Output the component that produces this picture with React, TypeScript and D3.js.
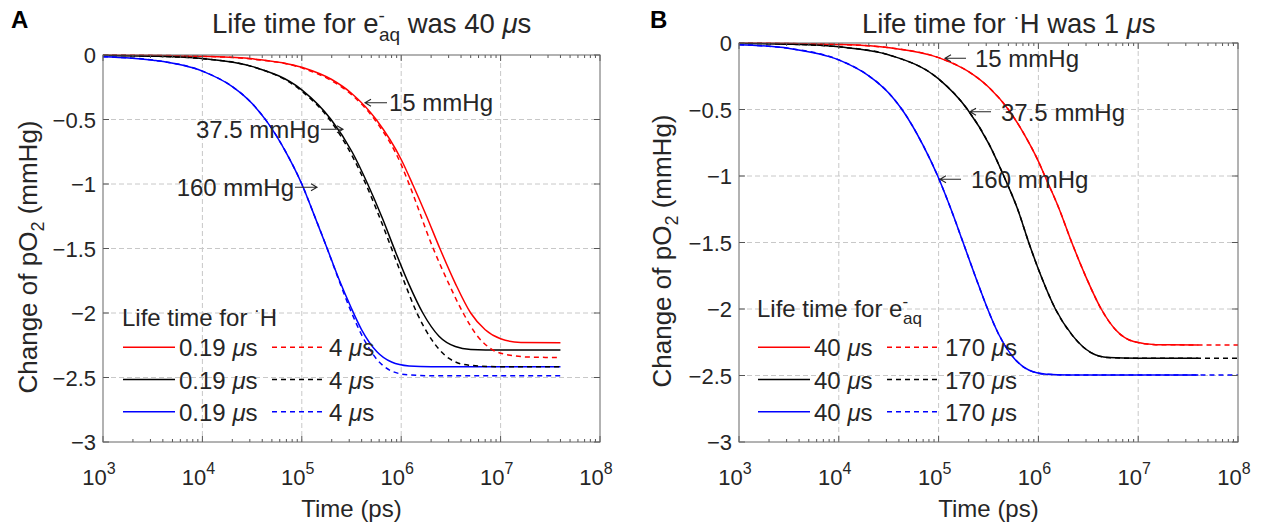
import React from 'react';
import * as d3 from 'd3';

type P = [number, number];

const FONT = '"Liberation Sans", Arial, Helvetica, sans-serif';
const TXT = '#262626';

// ---------- tick labels ----------
const xTicks = [1e3, 1e4, 1e5, 1e6, 1e7, 1e8];
const xTickExp = ['3', '4', '5', '6', '7', '8'];
const yTicks = [0, -0.5, -1, -1.5, -2, -2.5, -3];
const yTickLabels = ['0', '\u22120.5', '\u22121', '\u22121.5', '\u22122', '\u22122.5', '\u22123'];

// ---------- colours of the three pO2 levels (15, 37.5, 160 mmHg) ----------
const seriesColors = ['#ff0000', '#000000', '#0000ff'];

// ---------- Panel A: [time (ps), change of pO2 (mmHg)] ----------
const A_red_solid: P[] = [[1e3, -0.001], [3.2e3, -0.003], [1e4, -0.01], [3.2e4, -0.03], [1e5, -0.095], [2e5, -0.19], [3.2e5, -0.3], [5.6e5, -0.5], [1e6, -0.81], [1.3e6, -1.0], [1.8e6, -1.25], [2.45e6, -1.5], [3.5e6, -1.77], [5e6, -2.0], [7e6, -2.13], [1e7, -2.2], [1.6e7, -2.228], [4e7, -2.23]];
const A_red_dash: P[] = [[1e3, -0.001], [3.2e3, -0.003], [1e4, -0.01], [3.2e4, -0.032], [1e5, -0.1], [2e5, -0.2], [3.2e5, -0.31], [5.4e5, -0.5], [1e6, -0.85], [1.2e6, -1.0], [2.1e6, -1.5], [3e6, -1.77], [4.2e6, -2.0], [6e6, -2.19], [8.3e6, -2.285], [1.2e7, -2.325], [2e7, -2.342], [4e7, -2.345]];
const A_black_solid: P[] = [[1e3, -0.003], [3.2e3, -0.009], [1e4, -0.028], [3.2e4, -0.09], [1e5, -0.27], [1.97e5, -0.5], [3.2e5, -0.75], [4.6e5, -1.0], [6.5e5, -1.27], [8.5e5, -1.5], [1.2e6, -1.78], [1.65e6, -2.0], [2.4e6, -2.18], [3.5e6, -2.26], [5e6, -2.282], [1e7, -2.287], [4e7, -2.287]];
const A_black_dash: P[] = [[1e3, -0.003], [3.2e3, -0.009], [1e4, -0.029], [3.2e4, -0.09], [1e5, -0.28], [1.9e5, -0.5], [3.2e5, -0.78], [4.4e5, -1.0], [6e5, -1.25], [8e5, -1.5], [1.1e6, -1.78], [1.44e6, -2.0], [2e6, -2.2], [3e6, -2.35], [4.8e6, -2.405], [1e7, -2.416], [4e7, -2.416]];
const A_blue_solid: P[] = [[1e3, -0.013], [3.2e3, -0.04], [1e4, -0.125], [2e4, -0.245], [3.2e4, -0.38], [4.5e4, -0.52], [7e4, -0.76], [1e5, -1.0], [1.3e5, -1.22], [1.8e5, -1.5], [2.4e5, -1.75], [3.1e5, -1.95], [4e5, -2.13], [5.7e5, -2.3], [8e5, -2.38], [1.2e6, -2.41], [2e6, -2.416], [4e7, -2.416]];
const A_blue_dash: P[] = [[1e3, -0.013], [3.2e3, -0.04], [1e4, -0.125], [2e4, -0.245], [3.2e4, -0.38], [4.5e4, -0.52], [7e4, -0.76], [1e5, -1.0], [1.3e5, -1.22], [1.8e5, -1.5], [2.4e5, -1.76], [3.1e5, -1.98], [4e5, -2.17], [5.7e5, -2.36], [8e5, -2.45], [1.2e6, -2.48], [2e6, -2.486], [4e7, -2.486]];

// ---------- Panel B ----------
const B_red_solid: P[] = [[1e3, -0.001], [3.2e3, -0.004], [1e4, -0.011], [3.2e4, -0.036], [1e5, -0.11], [2e5, -0.216], [3.2e5, -0.335], [5e5, -0.5], [7e5, -0.67], [1e6, -0.89], [1.16e6, -1.0], [1.6e6, -1.24], [2.16e6, -1.5], [3e6, -1.76], [4.26e6, -2.0], [6e6, -2.16], [9e6, -2.245], [1.5e7, -2.268], [4e7, -2.27]];
const B_black_solid: P[] = [[1e3, -0.003], [3.2e3, -0.009], [1e4, -0.029], [3.2e4, -0.09], [1e5, -0.27], [1.95e5, -0.5], [3.2e5, -0.76], [4.5e5, -1.0], [6.2e5, -1.25], [8e5, -1.5], [1.1e6, -1.78], [1.48e6, -2.0], [2.2e6, -2.2], [3.4e6, -2.33], [5e6, -2.365], [1e7, -2.371], [4e7, -2.371]];
const B_blue_solid: P[] = [[1e3, -0.013], [3.2e3, -0.041], [1e4, -0.127], [2e4, -0.247], [3.2e4, -0.38], [4.3e4, -0.5], [7e4, -0.77], [9.8e4, -1.0], [1.3e5, -1.23], [1.76e5, -1.5], [2.4e5, -1.78], [3.1e5, -2.0], [4e5, -2.19], [5.7e5, -2.37], [8e5, -2.459], [1.2e6, -2.49], [2e6, -2.496], [4e7, -2.496]];
const B_endTime = 1e8;
const B_red_dash: P[] = [...B_red_solid, [B_endTime, -2.27]];
const B_black_dash: P[] = [...B_black_solid, [B_endTime, -2.371]];
const B_blue_dash: P[] = [...B_blue_solid, [B_endTime, -2.496]];

// legend labels
const A_legendSolid = '0.19 ';
const A_legendDash = '4 ';
const B_legendSolid = '40 ';
const B_legendDash = '170 ';

type Box = { l: number; r: number; t: number; b: number };

function Axes({ box, children }: { box: Box; children?: React.ReactNode }) {
  const x = d3.scaleLog().domain([1e3, 1e8]).range([box.l, box.r]);
  const y = d3.scaleLinear().domain([-3, 0]).range([box.b, box.t]);
  const minor: number[] = [];
  for (let e = 3; e < 8; e++) for (let m = 2; m <= 9; m++) minor.push(m * Math.pow(10, e));
  const grid = '#c8c8c8';
  return (
    <g>
      {xTicks.slice(1, -1).map((t) => (
        <line key={'gx' + t} x1={x(t)} x2={x(t)} y1={box.t} y2={box.b} stroke={grid} strokeDasharray="5,3" strokeWidth={1} />
      ))}
      {yTicks.slice(1, -1).map((t) => (
        <line key={'gy' + t} x1={box.l} x2={box.r} y1={y(t)} y2={y(t)} stroke={grid} strokeDasharray="5,3" strokeWidth={1} />
      ))}
      {children}
      {minor.map((t) => (
        <g key={'mt' + t}>
          <line x1={x(t)} x2={x(t)} y1={box.b} y2={box.b - 3} stroke="#555" />
          <line x1={x(t)} x2={x(t)} y1={box.t} y2={box.t + 3} stroke="#555" />
        </g>
      ))}
      {xTicks.map((t) => (
        <g key={'xt' + t}>
          <line x1={x(t)} x2={x(t)} y1={box.b} y2={box.b - 6} stroke="#555" />
          <line x1={x(t)} x2={x(t)} y1={box.t} y2={box.t + 6} stroke="#555" />
        </g>
      ))}
      {yTicks.map((t) => (
        <g key={'yt' + t}>
          <line x1={box.l} x2={box.l + 6} y1={y(t)} y2={y(t)} stroke="#555" />
          <line x1={box.r} x2={box.r - 6} y1={y(t)} y2={y(t)} stroke="#555" />
        </g>
      ))}
      <rect x={box.l} y={box.t} width={box.r - box.l} height={box.b - box.t} fill="none" stroke="#666" strokeWidth={1} />
      {xTicks.map((t, i) => (
        <text key={'xl' + t} x={x(t) - 4} y={box.b + 43} fontSize={22} fill={TXT} textAnchor="middle" fontFamily={FONT}>
          10<tspan dy={-11} fontSize={16}>{xTickExp[i]}</tspan>
        </text>
      ))}
      {yTicks.map((t, i) => (
        <text key={'yl' + t} x={box.l - 7} y={y(t) + 8} fontSize={22} fill={TXT} textAnchor="end" fontFamily={FONT}>
          {yTickLabels[i]}
        </text>
      ))}
      <text x={(box.l + box.r) / 2} y={517} fontSize={24} fill={TXT} textAnchor="middle" fontFamily={FONT}>Time (ps)</text>
    </g>
  );
}

function Curves({ box, solids, dashes }: { box: Box; solids: P[][]; dashes: P[][] }) {
  const x = d3.scaleLog().domain([1e3, 1e8]).range([box.l, box.r]);
  const y = d3.scaleLinear().domain([-3, 0]).range([box.b, box.t]);
  const line = d3.line<P>().x((d) => x(d[0])).y((d) => y(d[1])).curve(d3.curveMonotoneX);
  return (
    <g>
      {solids.map((s, i) => (
        <path key={'s' + i} d={line(s) || ''} fill="none" stroke={seriesColors[i]} strokeWidth={1.5} />
      ))}
      {dashes.map((s, i) => (
        <path key={'d' + i} d={line(s) || ''} fill="none" stroke={seriesColors[i]} strokeWidth={1.5} strokeDasharray="5,4" />
      ))}
    </g>
  );
}

function Arrow({ from, to, y }: { from: number; to: number; y: number }) {
  const dir = to > from ? 1 : -1;
  return (
    <path d={`M${from},${y}L${to},${y}M${to - dir * 6},${y - 3.5}L${to},${y}L${to - dir * 6},${y + 3.5}`} fill="none" stroke={TXT} strokeWidth={1.1} />
  );
}

function Legend({ rows, solidLabel, dashLabel, xs }: { rows: number[]; solidLabel: string; dashLabel: string; xs: { s1: number; s2: number; t1: number; d1: number; d2: number; t2: number } }) {
  return (
    <g fontFamily={FONT} fontSize={24} fill={TXT}>
      {rows.map((ry, i) => (
        <g key={i}>
          <line x1={xs.s1} x2={xs.s2} y1={ry} y2={ry} stroke={seriesColors[i]} strokeWidth={1.5} />
          <text x={xs.t1} y={ry + 9}>{solidLabel}<tspan fontStyle="italic">μ</tspan>s</text>
          <line x1={xs.d1} x2={xs.d2} y1={ry} y2={ry} stroke={seriesColors[i]} strokeWidth={1.5} strokeDasharray="5,4" />
          <text x={xs.t2} y={ry + 9}>{dashLabel}<tspan fontStyle="italic">μ</tspan>s</text>
        </g>
      ))}
    </g>
  );
}

export default function App() {
  const boxA: Box = { l: 103, r: 600, t: 55, b: 442 };
  const boxB: Box = { l: 739, r: 1238, t: 43, b: 442 };
  const rows = [347.3, 379.5, 411.7];
  return (
    <svg width={1270} height={527} style={{ display: 'block', position: 'absolute', left: 0, top: 0, background: '#fff' }} fontFamily={FONT}>
      <rect x={0} y={0} width={1270} height={527} fill="#fff" />
      <Axes box={boxA}>
        <Curves box={boxA} solids={[A_red_solid, A_black_solid, A_blue_solid]} dashes={[A_red_dash, A_black_dash, A_blue_dash]} />
      </Axes>
      <Axes box={boxB}>
        <Curves box={boxB} solids={[B_red_solid, B_black_solid, B_blue_solid]} dashes={[B_red_dash, B_black_dash, B_blue_dash]} />
      </Axes>

      <text x={11} y={28} fontSize={24} fontWeight="bold" fill="#000">A</text>
      <text x={650} y={28} fontSize={24} fontWeight="bold" fill="#000">B</text>

      <text x={212} y={33} fontSize={27.5} fill={TXT}>
        Life time for e<tspan dy={-11} fontSize={19}>-</tspan><tspan dx={-6} dy={19} fontSize={19}>aq</tspan><tspan dy={-8}> was 40 </tspan><tspan fontStyle="italic">μ</tspan>s
      </text>
      <text x={862} y={33} fontSize={27.5} fill={TXT}>
        Life time for <tspan dy={-10} fontSize={19}>·</tspan><tspan dy={10}>H was 1 </tspan><tspan fontStyle="italic">μ</tspan>s
      </text>

      <text transform="translate(37,257) rotate(-90)" fontSize={26} fill={TXT} textAnchor="middle">
        Change of pO<tspan dy={7} fontSize={18}>2</tspan><tspan dy={-7}> (mmHg)</tspan>
      </text>
      <text transform="translate(671,251) rotate(-90)" fontSize={26} fill={TXT} textAnchor="middle">
        Change of pO<tspan dy={7} fontSize={18}>2</tspan><tspan dy={-7}> (mmHg)</tspan>
      </text>

      {/* annotations A */}
      <g fontSize={24} fill={TXT}>
        <Arrow from={387} to={365} y={102.7} />
        <text x={389} y={111}>15 mmHg</text>
        <text x={320} y={138} textAnchor="end">37.5 mmHg</text>
        <Arrow from={321} to={343} y={129.3} />
        <text x={294} y={196} textAnchor="end">160 mmHg</text>
        <Arrow from={295} to={317} y={187.3} />
      </g>
      {/* annotations B */}
      <g fontSize={24} fill={TXT}>
        <Arrow from={966} to={945} y={58.3} />
        <text x={975} y={67}>15 mmHg</text>
        <Arrow from={991} to={970} y={111.7} />
        <text x={1001} y={120.5}>37.5 mmHg</text>
        <Arrow from={961} to={940} y={179.3} />
        <text x={971} y={188}>160 mmHg</text>
      </g>

      <text x={122} y={326} fontSize={24} fill={TXT}>
        Life time for <tspan dy={-10} fontSize={17}>·</tspan><tspan dy={10}>H</tspan>
      </text>
      <Legend rows={rows} solidLabel={A_legendSolid} dashLabel={A_legendDash} xs={{ s1: 123, s2: 175, t1: 179, d1: 272, d2: 322, t2: 329 }} />
      <text x={757} y={317} fontSize={24} fill={TXT}>
        Life time for e<tspan dy={-10} fontSize={17}>-</tspan><tspan dx={-5} dy={17} fontSize={17}>aq</tspan>
      </text>
      <Legend rows={rows} solidLabel={B_legendSolid} dashLabel={B_legendDash} xs={{ s1: 758, s2: 810, t1: 814, d1: 887, d2: 937, t2: 945 }} />
    </svg>
  );
}
